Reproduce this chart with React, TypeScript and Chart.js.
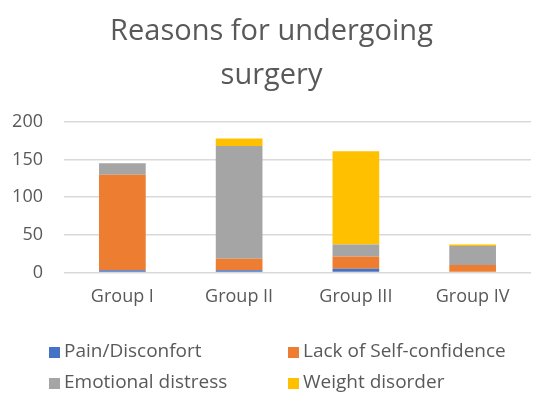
import React, { useEffect, useRef } from "react";
import { Chart, registerables } from "chart.js";

Chart.register(...registerables);

const categories = ["Group I", "Group II", "Group III", "Group IV"];
const painDisconfort = [3, 3, 5, 0];
const lackSelfConfidence = [127, 15, 16, 10];
const emotionalDistress = [15, 150, 16, 25];
const weightDisorder = [0, 10, 124, 2];
const yTicks = [0, 50, 100, 150, 200];
const titleLines = ["Reasons for undergoing", "surgery"];

const FONT = "'Open Sans', Lato, sans-serif";

const legendPlugin = {
  id: "gridLegend",
  afterDraw(chart: any) {
    const ctx = chart.ctx;
    const ds = chart.data.datasets;
    const cols = [49, 288];
    const rows = [352, 383];
    ctx.save();
    ctx.font = `19px ${FONT}`;
    ctx.textBaseline = "middle";
    ds.forEach((d: any, i: number) => {
      const x = cols[i % 2];
      const y = rows[Math.floor(i / 2)];
      ctx.fillStyle = d.backgroundColor;
      ctx.fillRect(x, y - 5, 11, 11);
      ctx.fillStyle = "#595959";
      ctx.fillText(d.label, x + 15, y);
    });
    ctx.restore();
  },
};

export default function App() {
  const ref = useRef<HTMLCanvasElement>(null);
  useEffect(() => {
    if (!ref.current) return;
    const chart = new Chart(ref.current, {
      type: "bar",
      data: {
        labels: categories,
        datasets: [
          { label: "Pain/Disconfort", data: painDisconfort, backgroundColor: "#4472C4" },
          { label: "Lack of Self-confidence", data: lackSelfConfidence, backgroundColor: "#ED7D31" },
          { label: "Emotional distress", data: emotionalDistress, backgroundColor: "#A5A5A5" },
          { label: "Weight disorder", data: weightDisorder, backgroundColor: "#FFC000" },
        ],
      },
      options: {
        responsive: false,
        animation: false,
        layout: { padding: { left: 12, right: 4, top: 10, bottom: 89 } },
        datasets: { bar: { barPercentage: 0.4, categoryPercentage: 1 } },
        plugins: {
          legend: { display: false },
          tooltip: { enabled: false },
          title: {
            display: true,
            text: titleLines,
            color: "#595959",
            font: { family: FONT, size: 29, weight: "normal", lineHeight: 1.5 },
            padding: { top: 0, bottom: 25 },
          },
        },
        scales: {
          x: {
            stacked: true,
            grid: { display: false },
            border: { display: false },
            ticks: { color: "#595959", font: { family: FONT, size: 18 }, padding: 6 },
          },
          y: {
            stacked: true,
            min: 0,
            max: 200,
            afterBuildTicks(axis: any) {
              axis.ticks = yTicks.map((v) => ({ value: v }));
            },
            afterFit(axis: any) {
              axis.width = 52;
            },
            grid: { color: "#D9D9D9", lineWidth: 1.5, drawTicks: false },
            border: { display: false },
            ticks: { color: "#595959", font: { family: FONT, size: 18 }, padding: 21 },
          },
        },
      },
      plugins: [legendPlugin],
    });
    return () => chart.destroy();
  }, []);
  return (
    <div style={{ position: "absolute", left: 0, top: 0, width: 535, height: 403, background: "#fff" }}>
      <canvas ref={ref} width={535} height={403} />
    </div>
  );
}
